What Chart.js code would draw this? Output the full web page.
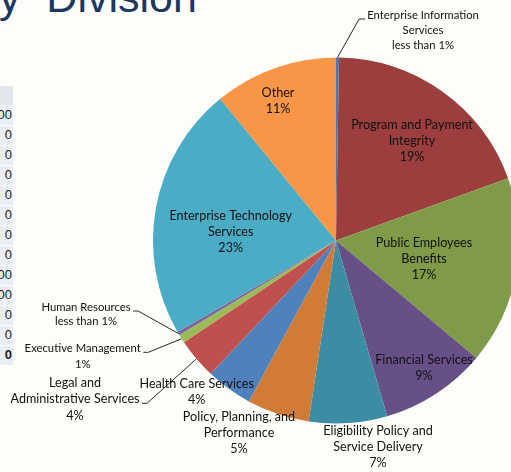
<!DOCTYPE html>
<html>
<head>
<meta charset="utf-8">
<script src="https://cdn.jsdelivr.net/npm/chart.js@4.4.1/dist/chart.umd.min.js"></script>
<style>
  html, body { margin:0; padding:0; width:511px; height:472px; overflow:hidden; background:#fdfdfa; }
  #title { position:absolute; left:-25px; top:-24.5px; font-family:"Liberation Sans", Arial, sans-serif; font-size:43px; line-height:43px; color:#1c3760; white-space:nowrap; word-spacing:14px; }
  #tbl { position:absolute; left:0; top:86px; width:13px; }
  .row { height:18.5px; margin-bottom:1.5px; background:#e9edf4; font-family:"Liberation Sans", Arial, sans-serif; font-size:13px; line-height:18.5px; color:#1e1e1e; text-align:right; padding-right:1px; overflow:hidden; white-space:nowrap; direction:rtl; }
  .row.head { background:#e2e5ea; }
  .row.total { font-weight:bold; }
  #c { position:absolute; left:0; top:0; }
</style>
</head>
<body>
<div id="title">by Division</div>
<div id="tbl"></div>
<canvas id="c" width="520" height="472"></canvas>
<script>
// ---- data ----
const categories = [
  'Enterprise Information Services',
  'Program and Payment Integrity',
  'Public Employees Benefits',
  'Financial Services',
  'Eligibility Policy and Service Delivery',
  'Policy, Planning, and Performance',
  'Health Care Services',
  'Legal and Administrative Services',
  'Executive Management',
  'Human Resources',
  'Enterprise Technology Services',
  'Other'
];
const shares = [0.26, 19.2, 16.6, 9.4, 6.9, 5.5, 4.1, 3.6, 0.75, 0.32, 22.4, 10.9];
const pctLabels = ['less than 1%', '19%', '17%', '9%', '7%', '5%', '4%', '4%', '1%', 'less than 1%', '23%', '11%'];
const labelLines = [
  ['Enterprise Information', 'Services'],
  ['Program and Payment', 'Integrity'],
  ['Public Employees', 'Benefits'],
  ['Financial Services'],
  ['Eligibility Policy and', 'Service Delivery'],
  ['Policy, Planning, and', 'Performance'],
  ['Health Care Services'],
  ['Legal and', 'Administrative Services'],
  ['Executive Management'],
  ['Human Resources'],
  ['Enterprise Technology', 'Services'],
  ['Other']
];
const tableCells = ['', '00', '0', '0', '0', '0', '0', '0', '0', '00', '00', '0', '0', '0'];

// ---- style ----
const sliceColors = ['#4a78b3', '#9c3e3d', '#7f9b48', '#674f87', '#3c8da4', '#d07c36',
                     '#4f81bd', '#c0504d', '#9bbb59', '#8064a2', '#4bacc6', '#f79646'];
// label layout: offset of the text block (center x, first line center y) from pie center, in px
const labelLayout = [
  {dx: 87, dy: -225.5, size: 11.3, lh: 15, leader: 'left', line: 0},
  {dx: 76, dy: -115.5, size: 12.6, lh: 16},
  {dx: 88, dy: 2.2, size: 12.6, lh: 16},
  {dx: 88, dy: 119, size: 12.6, lh: 16},
  {dx: 42, dy: 190.2, size: 12.6, lh: 16},
  {dx: -97, dy: 176.2, size: 12.6, lh: 16},
  {dx: -139.3, dy: 143.5, size: 12.6, lh: 16},
  {dx: -261, dy: 142.2, size: 12.6, lh: 16.6, leader: 'right', line: 1},
  {dx: -253.3, dy: 107.8, size: 11.3, lh: 15.7, leader: 'right', line: 0},
  {dx: -250, dy: 66.5, size: 11.3, lh: 14.7, leader: 'right', line: 0},
  {dx: -105.3, dy: -24.8, size: 12.6, lh: 16.2},
  {dx: -58, dy: -147.8, size: 12.6, lh: 16.3}
];

// table
const tbl = document.getElementById('tbl');
tableCells.forEach((t, i) => {
  const d = document.createElement('div');
  d.className = 'row' + (i === 0 ? ' head' : '') + (i === tableCells.length - 1 ? ' total' : '');
  d.textContent = t;
  tbl.appendChild(d);
});

const labelPlugin = {
  id: 'pieLabels',
  afterDatasetsDraw(chart) {
    const ctx = chart.ctx;
    const meta = chart.getDatasetMeta(0);
    ctx.save();
    ctx.fillStyle = '#111';
    ctx.strokeStyle = '#111';
    ctx.lineWidth = 0.9;
    ctx.textAlign = 'center';
    ctx.textBaseline = 'middle';
    meta.data.forEach((arc, i) => {
      const L = labelLayout[i];
      const cx = arc.x + L.dx;
      const cy = arc.y + L.dy;
      const lines = labelLines[i].concat([pctLabels[i]]);
      ctx.font = L.size + 'px Lato, "Liberation Sans", sans-serif';
      lines.forEach((s, k) => ctx.fillText(s, cx, cy + k * L.lh));
      if (L.leader) {
        const mid = (arc.startAngle + arc.endAngle) / 2;
        const ex = arc.x + arc.outerRadius * Math.cos(mid);
        const ey = arc.y + arc.outerRadius * Math.sin(mid);
        const w = ctx.measureText(lines[L.line]).width;
        const ly = cy + L.line * L.lh + 4;
        let s0, s1;
        if (L.leader === 'right') { s0 = cx + w / 2 + 2.5; s1 = s0 + 5; }
        else { s0 = cx - w / 2 - 2; s1 = s0 - 6; }
        ctx.beginPath();
        ctx.moveTo(s0, ly);
        ctx.lineTo(s1, ly);
        ctx.lineTo(ex, ey);
        ctx.stroke();
      }
    });
    ctx.restore();
  }
};

new Chart(document.getElementById('c'), {
  type: 'pie',
  data: {
    labels: categories,
    datasets: [{ data: shares, backgroundColor: sliceColors, borderWidth: 0 }]
  },
  options: {
    responsive: false,
    animation: false,
    devicePixelRatio: 1,
    layout: { padding: { left: 153, right: 1, top: 57.5, bottom: 48.5 } },
    plugins: { legend: { display: false }, tooltip: { enabled: false }, title: { display: false } }
  },
  plugins: [labelPlugin]
});
</script>
</body>
</html>
